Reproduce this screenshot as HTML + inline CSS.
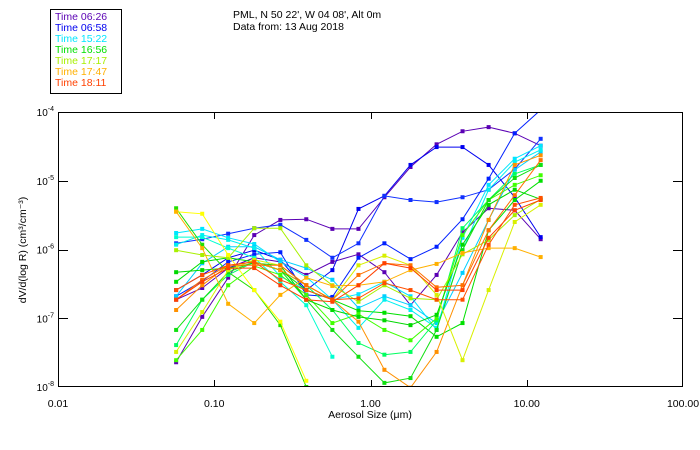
<!DOCTYPE html>
<html><head><meta charset="utf-8"><style>
html,body{margin:0;padding:0;background:#fff;}
svg{display:block;font-family:"Liberation Sans","DejaVu Sans",sans-serif;}
</style></head><body>
<svg id="chart" width="700" height="450" viewBox="0 0 700 450" xmlns="http://www.w3.org/2000/svg">
<rect x="0" y="0" width="700" height="450" fill="#fff"/>
<g>
<rect x="50.5" y="9.5" width="71" height="84" fill="none" stroke="#000" stroke-width="1"/>
<text x="55" y="20" font-size="10.5" fill="#5a00b4">Time 06:26</text>
<text x="55" y="31" font-size="10.5" fill="#0000f0">Time 06:58</text>
<text x="55" y="42" font-size="10.5" fill="#00e6ff">Time 15:22</text>
<text x="55" y="53" font-size="10.5" fill="#00e000">Time 16:56</text>
<text x="55" y="64" font-size="10.5" fill="#a8f000">Time 17:17</text>
<text x="55" y="75" font-size="10.5" fill="#ffb000">Time 17:47</text>
<text x="55" y="86" font-size="10.5" fill="#ff4000">Time 18:11</text>
</g>
<text x="233" y="18" font-size="10.5" fill="#000">PML, N 50 22', W 04 08', Alt 0m</text>
<text x="233" y="30" font-size="10.5" fill="#000">Data from: 13 Aug 2018</text>
<g id="plot"></g>
<text x="370" y="418" font-size="10.5" text-anchor="middle" fill="#000">Aerosol Size (μm)</text>
<text transform="translate(26,250) rotate(-90)" font-size="10.5" text-anchor="middle" fill="#000">dV/d(log R) (cm³/cm⁻³)</text>
</svg>
<script>
const sizeLogs = [-1.244,-1.077,-0.911,-0.744,-0.577,-0.411,-0.244,-0.077,0.089,0.256,0.423,0.589,0.756,0.923,1.089];
const xTickLabels = ["0.01","0.10","1.00","10.00","100.00"];
const xTickLogs = [-2,-1,0,1,2];
const yTickExps = [-4,-5,-6,-7,-8];
const seriesColors = ["#5a00b4","#5a00b4","#0000f0","#1030ff","#0020ff","#00e6ff","#00d0ff","#00ffd0","#00f0f0","#20e000","#00e000","#00ff60","#40ff00","#00d800","#10e010","#a8f000","#ffff00","#d8f000","#ffb000","#ff9000","#ff7000","#ff4000","#ff5000"];
const s01 = [-7.64,-6.98,-6.41,-5.79,-5.57,-5.56,-5.70,-5.70,-5.24,-4.80,-4.47,-4.28,-4.22,-4.31,-4.49];
const s02 = [-6.73,-6.56,-6.27,-6.12,-6.18,-6.37,-6.18,-6.07,-6.33,-6.81,-6.37,-5.75,-5.40,-5.43,-5.85];
const s03 = [-6.59,-6.37,-6.12,-6.01,-6.15,-6.59,-6.30,-5.41,-5.22,-4.77,-4.51,-4.51,-4.77,-5.24,-5.82];
const s04 = [-5.91,-5.85,-5.77,-5.69,-5.64,-5.86,-6.12,-5.91,-5.22,-5.28,-5.31,-5.24,-5.13,-4.83,-4.39];
const s05 = [-6.68,-6.46,-6.18,-6.07,-6.04,-6.66,-6.69,-6.12,-5.91,-6.14,-5.96,-5.56,-4.97,-4.31,-3.97];
const s06 = [-5.76,-5.70,-5.83,-5.92,-6.18,-6.40,-6.73,-6.65,-6.47,-6.68,-7.17,-5.83,-5.06,-4.68,-4.49];
const s07 = [-6.68,-6.20,-5.96,-5.96,-6.15,-6.27,-6.44,-6.85,-6.68,-6.81,-7.07,-6.34,-5.57,-4.84,-4.58];
const s08 = [-5.82,-5.82,-5.98,-6.12,-6.47,-6.81,-7.56];
const s09 = [-5.93,-5.79,-5.86,-5.98,-6.39,-6.59,-6.73,-7.14,-6.73,-6.88,-7.14,-6.01,-5.13,-4.73,-4.55];
const s10 = [-5.40,-5.93,-6.33,-6.59,-7.10,-8.00];
const s11 = [-6.47,-6.18,-6.12,-6.18,-6.30,-6.59,-6.73,-6.89,-6.92,-6.97,-7.27,-7.07,-5.72,-5.28,-5.00];
const s12 = [-7.39,-6.73,-6.37,-6.18,-6.30,-6.52,-6.88,-7.36,-7.53,-7.49,-7.03,-5.69,-5.28,-4.90,-4.77];
const s13 = [-7.61,-7.17,-6.52,-6.24,-6.37,-6.66,-7.07,-6.94,-7.17,-7.32,-7.00,-5.79,-5.28,-5.06,-4.92];
const s14 = [-6.33,-6.30,-6.27,-6.20,-6.23,-6.73,-6.88,-6.98,-7.03,-7.10,-6.95,-5.93,-5.35,-5.13,-5.27];
const s15 = [-7.17,-6.73,-6.33,-6.18,-6.30,-6.73,-7.17,-7.56,-7.94,-7.87,-7.17,-6.01,-5.28,-4.96,-4.77];
const s16 = [-6.01,-6.08,-6.12,-5.69,-5.69,-6.23,-6.52,-6.76,-6.52,-6.71,-6.73,-6.07,-5.86,-5.50,-5.27];
const s17 = [-5.45,-5.48,-6.08,-6.59,-7.05,-7.91];
const s18 = [-7.49,-6.91,-6.30,-6.15,-6.23,-6.52,-6.73,-6.23,-6.09,-6.23,-6.66,-7.61,-6.59,-5.60,-5.35];
const s19 = [-5.45,-5.98,-6.79,-7.07,-6.66,-6.41,-6.53,-6.52,-6.47,-6.30,-6.21,-6.05,-5.98,-5.98,-6.11];
const s20 = [-6.88,-6.52,-6.23,-6.18,-6.30,-6.52,-6.73,-7.05,-7.75,-8.01,-7.49,-6.52,-5.57,-4.77,-4.63];
const s21 = [-6.73,-6.44,-6.23,-6.23,-6.23,-6.52,-6.73,-6.37,-6.20,-6.23,-6.55,-6.52,-5.72,-5.21,-4.70];
const s22 = [-6.73,-6.47,-6.27,-6.27,-6.52,-6.73,-6.76,-6.52,-6.20,-6.27,-6.59,-6.59,-5.83,-5.43,-5.28];
const s23 = [-6.59,-6.37,-6.23,-6.18,-6.44,-6.59,-6.73,-6.71,-6.49,-6.59,-6.73,-6.73,-5.93,-5.35,-5.25];
const allSeries = [s01,s02,s03,s04,s05,s06,s07,s08,s09,s10,s11,s12,s13,s14,s15,s16,s17,s18,s19,s20,s21,s22,s23];

const L=58,R=683,T=112,B=387;
function xScale(lg){return L+(lg+2)/4*(R-L);}
function yScale(e){return T+(-4-e)/4*(B-T);}
const NS="http://www.w3.org/2000/svg";
const plot=document.getElementById('plot');
function mk(tag,attrs){const el=document.createElementNS(NS,tag);for(const k in attrs)el.setAttribute(k,attrs[k]);return el;}

const clip=mk('clipPath',{id:'pc'});clip.appendChild(mk('rect',{x:L,y:T,width:R-L,height:B-T}));
const defs=mk('defs',{});defs.appendChild(clip);plot.appendChild(defs);
const series=mk('g',{'clip-path':'url(#pc)'});


plot.appendChild(series);
allSeries.forEach((s,i)=>{
  const col=seriesColors[i];
  const pts=s.map((v,j)=>xScale(sizeLogs[j]).toFixed(1)+','+yScale(v).toFixed(1)).join(' ');
  const pl=mk('polyline',{points:pts,fill:'none',stroke:col,'stroke-width':1});
  
  
  series.appendChild(pl);
  s.forEach((v,j)=>{
    const r=mk('rect',{x:xScale(sizeLogs[j])-2,y:yScale(v)-2,width:4,height:4,fill:col});
    
    
    series.appendChild(r);
  });
});
const frame=mk('rect',{x:L+0.5,y:T+0.5,width:R-L-1,height:B-T-1,fill:'none',stroke:'#000','stroke-width':1});


plot.appendChild(frame);
xTickLogs.forEach((lg,i)=>{
  const x=Math.round(xScale(lg))+0.5;
  if(i>0&&i<xTickLogs.length-1){
    const t1=mk('line',{x1:x,y1:B,x2:x,y2:B-7,stroke:'#000'});
    
    
    plot.appendChild(t1);
    const t2=mk('line',{x1:x,y1:T,x2:x,y2:T+7,stroke:'#000'});
    
    
    plot.appendChild(t2);
  }
  const tx=mk('text',{x:xScale(lg),y:B+20,'font-size':10.5,'text-anchor':'middle',fill:'#000'});
  tx.textContent=xTickLabels[i];
  
  
  plot.appendChild(tx);
});
yTickExps.forEach((e,i)=>{
  const y=Math.round(yScale(e))+0.5;
  if(i>0&&i<yTickExps.length-1){
    const t1=mk('line',{x1:L,y1:y,x2:L+10,y2:y,stroke:'#000'});
    
    
    plot.appendChild(t1);
    const t2=mk('line',{x1:R-10,y1:y,x2:R,y2:y,stroke:'#000'});
    
    
    plot.appendChild(t2);
  }
  const tx=mk('text',{x:L-18,y:yScale(e)+4,'font-size':10,'text-anchor':'end',fill:'#000'});
  tx.textContent='10';
  const sup=mk('tspan',{dy:-5,'font-size':7});
  sup.textContent=String(e);
  tx.appendChild(sup);
  
  
  tx.setAttribute('x',L-4);
  plot.appendChild(tx);
});
</script>
</body></html>
